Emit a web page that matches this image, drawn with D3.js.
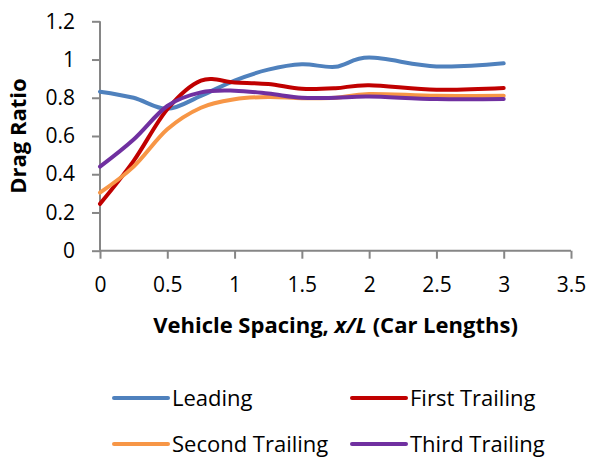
<!DOCTYPE html>
<html><head><meta charset="utf-8">
<script src="https://cdn.jsdelivr.net/npm/d3@7"></script>
<style>
html,body{margin:0;padding:0;background:#fff;}
svg{display:block;font-family:"Open Sans",sans-serif;}
</style></head>
<body>
<svg id="chart" width="591" height="459"></svg>
<script>
const xs = [0, 0.25, 0.5, 0.75, 1, 1.25, 1.5, 1.75, 2, 2.5, 3];
const leading = [0.832, 0.80, 0.742, 0.81, 0.89, 0.947, 0.975, 0.962, 1.01, 0.964, 0.98];
const firstTrailing = [0.245, 0.47, 0.74, 0.89, 0.88, 0.872, 0.847, 0.85, 0.866, 0.842, 0.851];
const secondTrailing = [0.304, 0.44, 0.635, 0.748, 0.792, 0.804, 0.798, 0.80, 0.82, 0.81, 0.81];
const thirdTrailing = [0.44, 0.582, 0.757, 0.828, 0.837, 0.822, 0.80, 0.80, 0.806, 0.793, 0.793];
const seriesNames = ["Leading", "First Trailing", "Second Trailing", "Third Trailing"];
const seriesColors = ["#4F81BD", "#C00000", "#F79646", "#7030A0"];
const xTicks = [0, 0.5, 1, 1.5, 2, 2.5, 3, 3.5];
const yTicks = [0, 0.2, 0.4, 0.6, 0.8, 1, 1.2];
const xTitle = ["Vehicle Spacing, ", "x/L", " (Car Lengths)"];
const yTitle = "Drag Ratio";

const allSeries = [leading, firstTrailing, secondTrailing, thirdTrailing];
const svg = d3.select("#chart");
const x = d3.scaleLinear().domain([0, 3.5]).range([100, 571]);
const y = d3.scaleLinear().domain([0, 1.2]).range([250.7, 21.3]);
const axisColor = "#868686";

// y axis
const gy = svg.append("g").attr("transform", `translate(${x(0)},0)`)
  .call(d3.axisLeft(y).tickValues(yTicks).tickSize(8).tickPadding(17).tickFormat(d => String(d)));
gy.select(".domain").attr("stroke", axisColor).attr("stroke-width", 2).attr("d", `M0,${y(0)}V${y(1.2)}`);
gy.selectAll(".tick line").attr("stroke", axisColor).attr("stroke-width", 2);
gy.selectAll(".tick text").attr("font-size", 21).attr("fill", "#000").attr("font-family", "Open Sans");

// x axis
const gx = svg.append("g").attr("transform", `translate(0,${y(0)})`)
  .call(d3.axisBottom(x).tickValues(xTicks).tickSize(8).tickPadding(18).tickFormat(d => String(d)));
gx.select(".domain").attr("stroke", axisColor).attr("stroke-width", 2).attr("d", `M${x(0)},0H${x(3.5)}`);
gx.selectAll(".tick line").attr("stroke", axisColor).attr("stroke-width", 2);
gx.selectAll(".tick text").attr("font-size", 21).attr("fill", "#000").attr("font-family", "Open Sans");

// lines
const line = d3.line().x((d, i) => x(xs[i])).y(d => y(d)).curve(d3.curveCardinal.tension(0));
allSeries.forEach((s, k) => {
  svg.append("path").datum(s).attr("d", line).attr("fill", "none")
    .attr("stroke", seriesColors[k]).attr("stroke-width", 4).attr("stroke-linecap", "round").attr("stroke-linejoin", "round");
});

// axis titles
const xt = svg.append("text").attr("x", (x(0) + x(3.5)) / 2).attr("y", 333)
  .attr("text-anchor", "middle").attr("font-size", 22).attr("font-weight", "bold").attr("fill", "#000");
xt.append("tspan").text(xTitle[0]);
xt.append("tspan").attr("font-style", "italic").text(xTitle[1]);
xt.append("tspan").text(xTitle[2]);

svg.append("text").attr("transform", `translate(26,${(y(0) + y(1.2)) / 2}) rotate(-90)`)
  .attr("text-anchor", "middle").attr("font-size", 22).attr("font-weight", "bold").attr("fill", "#000").text(yTitle);

// legend
const legPos = [[114, 398], [352, 398], [114, 444], [352, 444]];
seriesNames.forEach((name, k) => {
  const [lx, ly] = legPos[k];
  svg.append("line").attr("x1", lx).attr("x2", lx + 54).attr("y1", ly).attr("y2", ly)
    .attr("stroke", seriesColors[k]).attr("stroke-width", 4).attr("stroke-linecap", "round");
  svg.append("text").attr("x", lx + 58).attr("y", ly + 8).attr("font-size", 22).attr("fill", "#000").text(name);
});
</script>
</body></html>
